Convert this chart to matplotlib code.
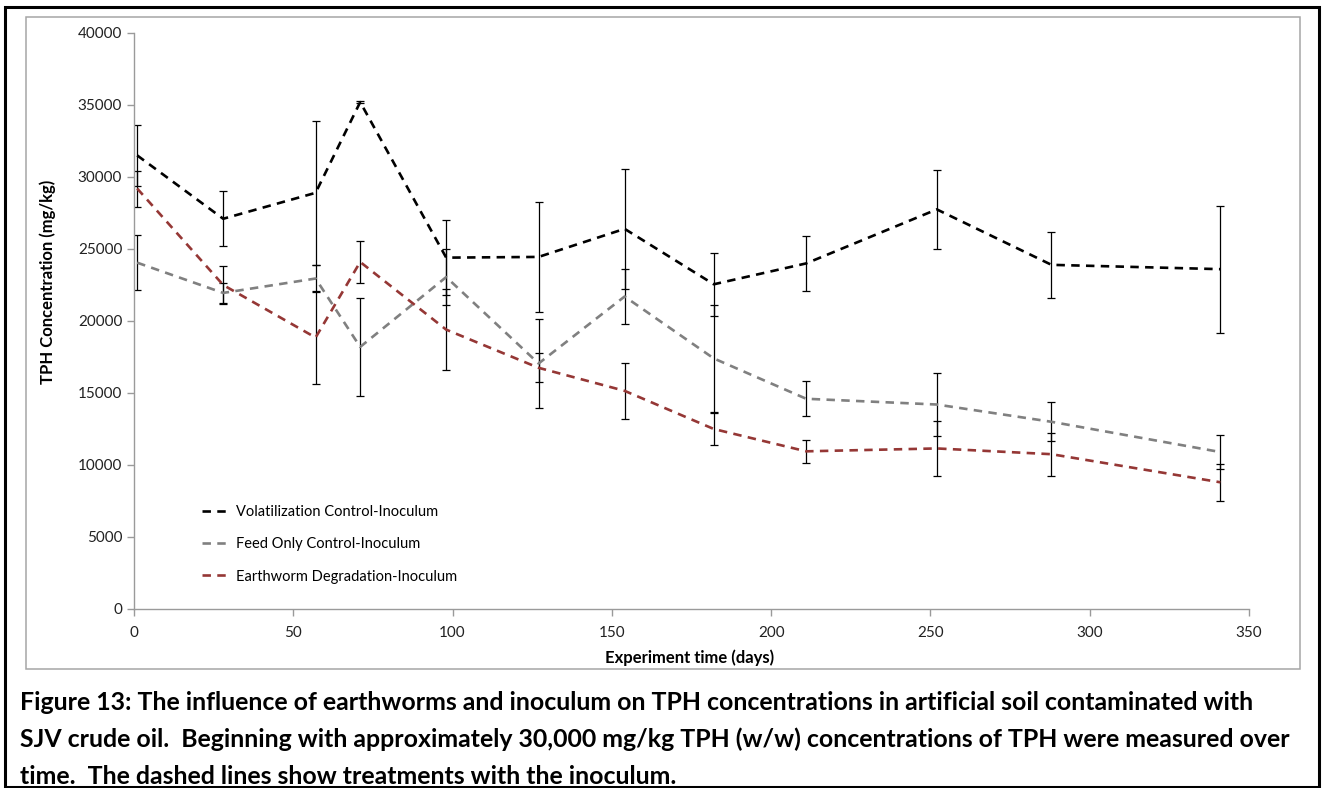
import numpy as np
import matplotlib
matplotlib.use("Agg")
import matplotlib.pyplot as plt
from matplotlib.patches import Rectangle

plt.rcParams['font.family'] = ['Lato', 'DejaVu Sans']

## sampling days and TPH readings (mg/kg)
days = [1, 28, 57, 71, 98, 127, 154, 182, 211, 252, 288, 341]

volat = [31500, 27100, 28900, 35200, 24400, 24450, 26400, 22550, 24000, 27750, 23900, 23600]
volat_err = [2100, 1900, 5000, 60, 2600, 3800, 4150, 2200, 1930, 2720, 2300, 4400]

feed = [24050, 21950, 22950, 18200, 23050, 17050, 21700, 17400, 14600, 14200, 13000, 10900]
feed_err = [1930, 700, 950, 3380, 1950, 3110, 1900, 3740, 1230, 2200, 1350, 1200]

worm = [29200, 22500, 18850, 24100, 19400, 16750, 15150, 12500, 10950, 11150, 10750, 8800]
worm_err = [1250, 1350, 3200, 1430, 2830, 1020, 1950, 1100, 790, 1920, 1500, 1270]

labels = ["Volatilization Control-Inoculum", "Feed Only Control-Inoculum",
          "Earthworm Degradation-Inoculum"]
colors = ["#000000", "#808080", "#953735"]

W, H = 1324, 788
fig = plt.figure(figsize=(W / 100, H / 100), dpi=100)

## outer black frame and grey chart box
fig.patches.append(Rectangle((5 / W, 1 / H), 1314 / W, 780 / H, transform=fig.transFigure,
                             fill=False, edgecolor="black", linewidth=2.2))
fig.patches.append(Rectangle((26 / W, (H - 669) / H), 1274 / W, 652 / H, transform=fig.transFigure,
                             fill=False, edgecolor="#a6a6a6", linewidth=1.1))

ax = fig.add_axes([134 / W, (H - 609) / H, (1249 - 134) / W, (609 - 33) / H])

series = [(volat, volat_err), (feed, feed_err), (worm, worm_err)]
for (vals, errs), lab, col in zip(series, labels, colors):
    ax.errorbar(days, vals, yerr=errs, fmt="none", ecolor="black", elinewidth=0.9,
                capsize=3, capthick=0.9, zorder=2)
    ax.plot(days, vals, color=col, linewidth=1.9, dashes=(3.2, 2.4), label=lab, zorder=3)

ax.set_xlim(0, 350)
ax.set_ylim(0, 40000)
ax.set_xticks(np.arange(0, 351, 50))
ax.set_yticks(np.arange(0, 40001, 5000))
for s in ["top", "right"]:
    ax.spines[s].set_visible(False)
for s in ["left", "bottom"]:
    ax.spines[s].set_color("#9a9a9a")
    ax.spines[s].set_linewidth(1.0)
ax.tick_params(axis="both", colors="#9a9a9a", labelcolor="#222222", labelsize=11,
               length=5, width=1.0)
ax.tick_params(axis="x", pad=7)

fig.text(690 / W, 1 - 658 / H, "Experiment time (days)", ha="center", va="center",
         fontsize=12, fontweight="bold")
fig.text(48 / W, 1 - 282 / H, "TPH Concentration (mg/kg)", ha="center", va="center",
         rotation=90, fontsize=12, fontweight="bold")

ax.legend(loc="upper left", bbox_to_anchor=(189 / W, 1 - 492 / H),
          bbox_transform=fig.transFigure, frameon=False, fontsize=10.5,
          handlelength=1.8, handletextpad=0.5, labelspacing=1.25)

caption = ["Figure 13: The influence of earthworms and inoculum on TPH concentrations in artificial soil contaminated with",
           "SJV crude oil.  Beginning with approximately 30,000 mg/kg TPH (w/w) concentrations of TPH were measured over",
           "time.  The dashed lines show treatments with the inoculum."]
for i, line in enumerate(caption):
    fig.text(20 / W, 1 - (703 + 36.5 * i) / H, line, ha="left", va="center",
             fontsize=17.9, fontweight="bold")

fig.savefig("out.png", dpi=100)
